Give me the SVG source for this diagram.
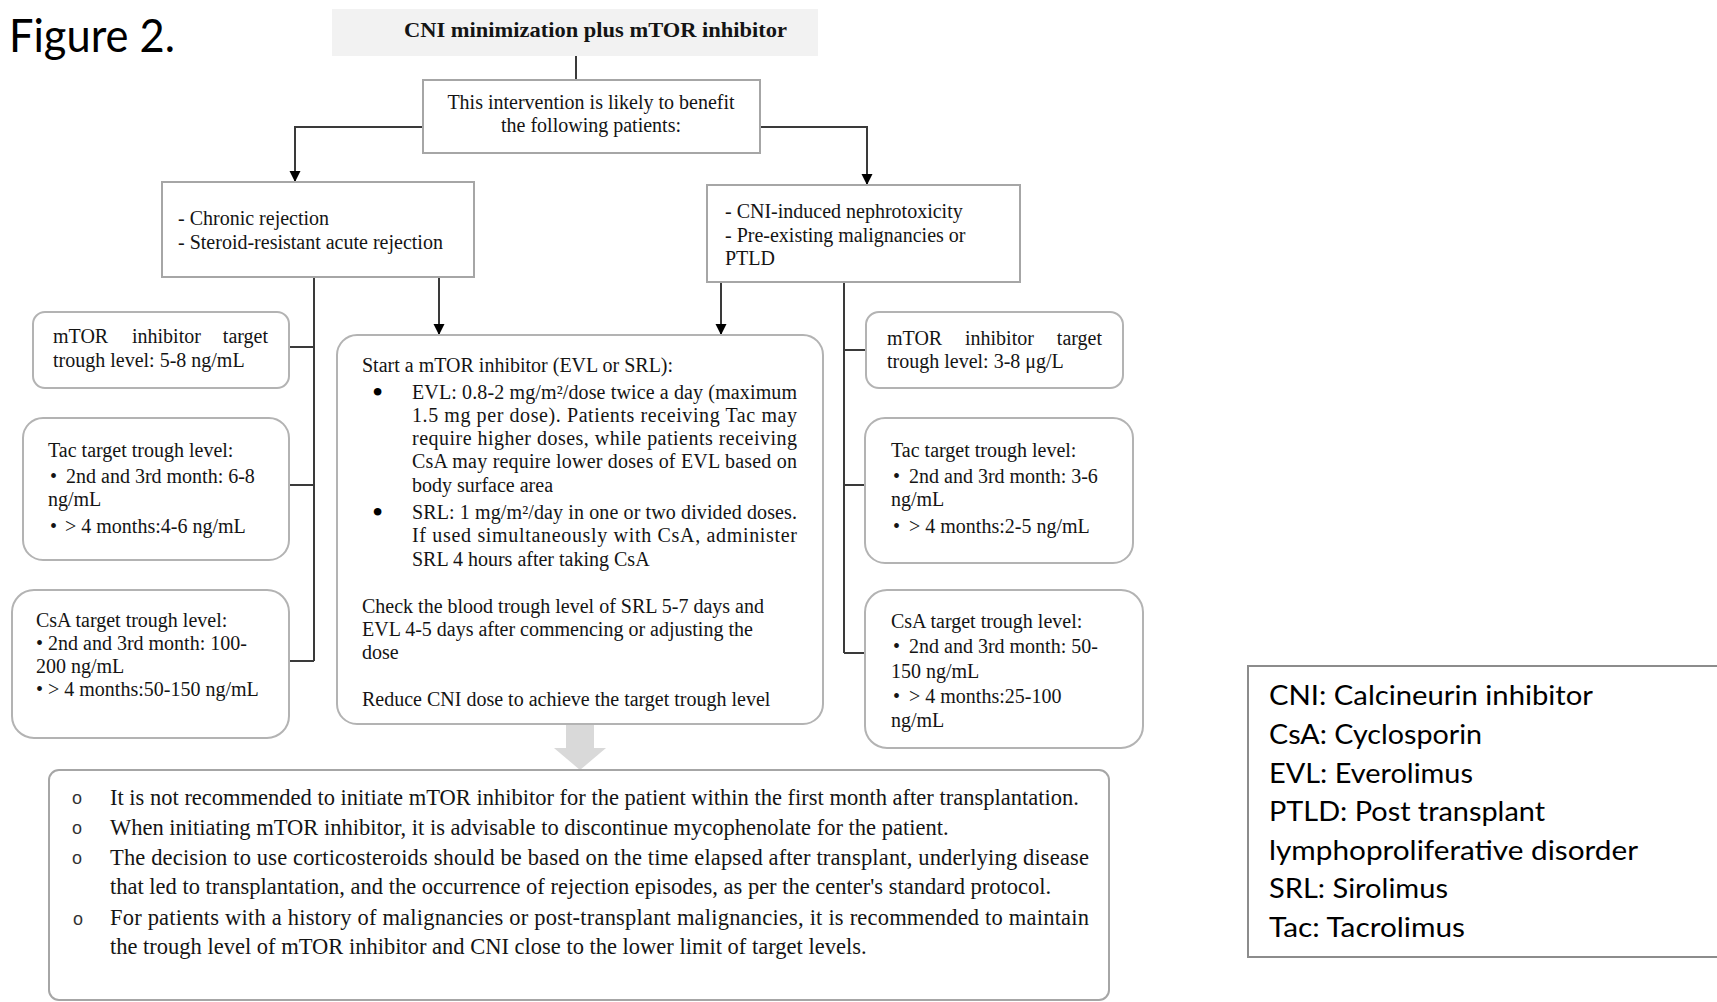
<svg xmlns="http://www.w3.org/2000/svg" width="1717" height="1002" viewBox="0 0 1717 1002">
<defs>
<style>
.t{font-family:"Liberation Serif","Times New Roman",serif;font-size:20px;fill:#141414}
.tb{font-family:"Liberation Serif","Times New Roman",serif;font-size:22px;font-weight:bold;fill:#141414}
.tl{font-family:"Liberation Serif","Times New Roman",serif;font-size:22.5px;fill:#141414}
.c{font-family:Lato,"Open Sans",sans-serif;fill:#000}
.bul{font-family:"Liberation Sans",Arial,sans-serif;font-size:18px;fill:#333}
.dot{font-family:"Liberation Serif","Times New Roman",serif;font-size:32px;fill:#000}
.box{fill:#fff;stroke:#a6a6a6;stroke-width:2}
.rbox{fill:#fff;stroke:#b3b3b3;stroke-width:2}
.ln{fill:none;stroke:#3a3a3a;stroke-width:2}
</style>
<marker id="arr" viewBox="0 0 10 10" refX="10" refY="5" markerWidth="11" markerHeight="12" markerUnits="userSpaceOnUse" orient="auto">
<path d="M0,0 L10,5 L0,10 z" fill="#000"/>
</marker>
</defs>
<rect width="1717" height="1002" fill="#fff"/>

<text class="c" x="9" y="52" font-size="46" textLength="166" lengthAdjust="spacingAndGlyphs">Figure 2.</text>

<g id="connectors">
<path class="ln" d="M576,55 V80"/>
<path class="ln" d="M423,127 H295 V182" marker-end="url(#arr)"/>
<path class="ln" d="M760,127 H867 V185" marker-end="url(#arr)"/>
<path class="ln" d="M439,277 V335" marker-end="url(#arr)"/>
<path class="ln" d="M721,282 V335" marker-end="url(#arr)"/>
<path class="ln" d="M314,277 V661 M314,347 H289 M314,485 H289 M314,661 H289"/>
<path class="ln" d="M844,282 V653 M844,350 H866 M844,485 H865 M844,653 H865"/>
<polygon points="566,725 594,725 594,748 606,748 580,770 554,748 566,748" fill="#d9d9d9"/>
</g>

<g id="title">
<rect x="332" y="9" width="486" height="47" fill="#f2f2f2"/>
<text class="tb" x="404" y="37" textLength="383" lengthAdjust="spacingAndGlyphs">CNI minimization plus mTOR inhibitor</text>
</g>

<g id="intervention">
<rect class="box" x="423" y="80" width="337" height="73"/>
<text class="t" x="591" y="109" text-anchor="middle">This intervention is likely to benefit</text>
<text class="t" x="591" y="132" text-anchor="middle">the following patients:</text>
</g>

<g id="chronic">
<rect class="box" x="162" y="182" width="312" height="95"/>
<text class="t" x="178" y="225">- Chronic rejection</text>
<text class="t" x="178" y="249">- Steroid-resistant acute rejection</text>
</g>

<g id="cni">
<rect class="box" x="707" y="185" width="313" height="97"/>
<text class="t" x="725" y="218">- CNI-induced nephrotoxicity</text>
<text class="t" x="725" y="242">- Pre-existing malignancies or</text>
<text class="t" x="725" y="265">PTLD</text>
</g>

<g id="left-mtor">
<rect class="rbox" x="33" y="312" width="256" height="76" rx="12"/>
<text class="t" y="343"><tspan x="53">mTOR</tspan><tspan x="132">inhibitor</tspan><tspan x="268" text-anchor="end">target</tspan></text>
<text class="t" x="53" y="367">trough level: 5-8 ng/mL</text>
</g>

<g id="left-tac">
<rect class="rbox" x="23" y="418" width="266" height="142" rx="20"/>
<text class="t" x="48" y="457">Tac target trough level:</text>
<text class="t" y="483"><tspan x="50">•</tspan><tspan x="66">2nd and 3rd month: 6-8</tspan></text>
<text class="t" x="48" y="506">ng/mL</text>
<text class="t" y="533"><tspan x="50">•</tspan><tspan x="65">&gt; 4 months:4-6 ng/mL</tspan></text>
</g>

<g id="left-csa">
<rect class="rbox" x="12" y="590" width="277" height="148" rx="22"/>
<text class="t" x="36" y="627">CsA target trough level:</text>
<text class="t" y="650"><tspan x="36">•</tspan><tspan x="48">2nd and 3rd month: 100-</tspan></text>
<text class="t" x="36" y="673">200 ng/mL</text>
<text class="t" y="696"><tspan x="36">•</tspan><tspan x="48">&gt; 4 months:50-150 ng/mL</tspan></text>
</g>

<g id="center">
<rect class="rbox" x="337" y="335" width="486" height="389" rx="20"/>
<text class="t" x="362" y="372">Start a mTOR inhibitor (EVL or SRL):</text>
<text class="dot" x="372" y="403">•</text>
<text class="t" x="412" y="399" textLength="385" lengthAdjust="spacing">EVL: 0.8-2 mg/m²/dose twice a day (maximum</text>
<text class="t" x="412" y="422" textLength="385" lengthAdjust="spacing">1.5 mg per dose). Patients receiving Tac may</text>
<text class="t" x="412" y="445" textLength="385" lengthAdjust="spacing">require higher doses, while patients receiving</text>
<text class="t" x="412" y="468" textLength="385" lengthAdjust="spacing">CsA may require lower doses of EVL based on</text>
<text class="t" x="412" y="492">body surface area</text>
<text class="dot" x="372" y="523">•</text>
<text class="t" x="412" y="519" textLength="385" lengthAdjust="spacing">SRL: 1 mg/m²/day in one or two divided doses.</text>
<text class="t" x="412" y="542" textLength="385" lengthAdjust="spacing">If used simultaneously with CsA, administer</text>
<text class="t" x="412" y="566">SRL 4 hours after taking CsA</text>
<text class="t" x="362" y="613">Check the blood trough level of SRL 5-7 days and</text>
<text class="t" x="362" y="636">EVL 4-5 days after commencing or adjusting the</text>
<text class="t" x="362" y="659">dose</text>
<text class="t" x="362" y="706">Reduce CNI dose to achieve the target trough level</text>
</g>

<g id="right-mtor">
<rect class="rbox" x="866" y="312" width="257" height="76" rx="13"/>
<text class="t" y="345"><tspan x="887">mTOR</tspan><tspan x="965">inhibitor</tspan><tspan x="1102" text-anchor="end">target</tspan></text>
<text class="t" x="887" y="368">trough level: 3-8 μg/L</text>
</g>

<g id="right-tac">
<rect class="rbox" x="865" y="418" width="268" height="145" rx="20"/>
<text class="t" x="891" y="457">Tac target trough level:</text>
<text class="t" y="483"><tspan x="893">•</tspan><tspan x="909">2nd and 3rd month: 3-6</tspan></text>
<text class="t" x="891" y="506">ng/mL</text>
<text class="t" y="533"><tspan x="893">•</tspan><tspan x="909">&gt; 4 months:2-5 ng/mL</tspan></text>
</g>

<g id="right-csa">
<rect class="rbox" x="865" y="590" width="278" height="158" rx="22"/>
<text class="t" x="891" y="628">CsA target trough level:</text>
<text class="t" y="653"><tspan x="893">•</tspan><tspan x="909">2nd and 3rd month: 50-</tspan></text>
<text class="t" x="891" y="678">150 ng/mL</text>
<text class="t" y="703"><tspan x="893">•</tspan><tspan x="909">&gt; 4 months:25-100</tspan></text>
<text class="t" x="891" y="727">ng/mL</text>
</g>

<g id="notes">
<rect class="box" x="49" y="770" width="1060" height="230" rx="10"/>
<text class="bul" x="72" y="804">o</text>
<text class="bul" x="72" y="834">o</text>
<text class="bul" x="72" y="864">o</text>
<text class="bul" x="73" y="925" font-size="21">o</text>
<text class="tl" x="110" y="805">It is not recommended to initiate mTOR inhibitor for the patient within the first month after transplantation.</text>
<text class="tl" x="110" y="835">When initiating mTOR inhibitor, it is advisable to discontinue mycophenolate for the patient.</text>
<text class="tl" x="110" y="865" textLength="979" lengthAdjust="spacing">The decision to use corticosteroids should be based on the time elapsed after transplant, underlying disease</text>
<text class="tl" x="110" y="894">that led to transplantation, and the occurrence of rejection episodes, as per the center's standard protocol.</text>
<text class="tl" x="110" y="925" textLength="979" lengthAdjust="spacing">For patients with a history of malignancies or post-transplant malignancies, it is recommended to maintain</text>
<text class="tl" x="110" y="954">the trough level of mTOR inhibitor and CNI close to the lower limit of target levels.</text>
</g>

<g id="legend">
<rect x="1248" y="666" width="480" height="291" fill="#fff" stroke="#8c8c8c" stroke-width="2"/>
<text class="c" x="1269" y="705" font-size="26" textLength="324" lengthAdjust="spacingAndGlyphs">CNI: Calcineurin inhibitor</text>
<text class="c" x="1269" y="744" font-size="26" textLength="213" lengthAdjust="spacingAndGlyphs">CsA: Cyclosporin</text>
<text class="c" x="1269" y="783" font-size="26" textLength="204" lengthAdjust="spacingAndGlyphs">EVL: Everolimus</text>
<text class="c" x="1269" y="821" font-size="26" textLength="276" lengthAdjust="spacingAndGlyphs">PTLD: Post transplant</text>
<text class="c" x="1269" y="860" font-size="26" textLength="369" lengthAdjust="spacingAndGlyphs">lymphoproliferative disorder</text>
<text class="c" x="1269" y="898" font-size="26" textLength="179" lengthAdjust="spacingAndGlyphs">SRL: Sirolimus</text>
<text class="c" x="1269" y="937" font-size="26" textLength="196" lengthAdjust="spacingAndGlyphs">Tac: Tacrolimus</text>
</g>
</svg>
